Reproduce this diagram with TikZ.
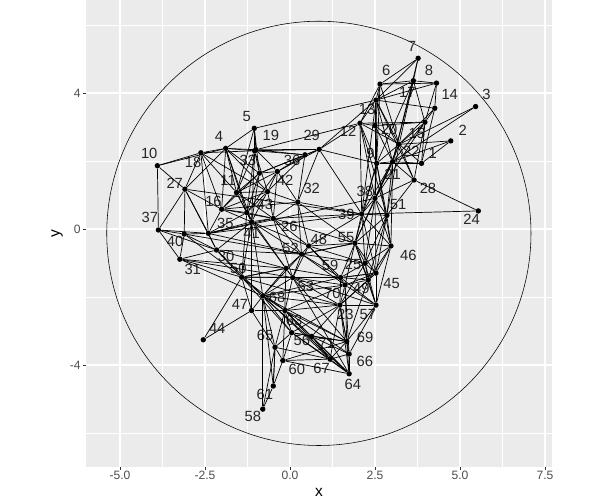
\documentclass[tikz,border=0pt]{standalone}
\usepackage{fontspec}
\setmainfont{Liberation Sans}
\usepackage{tikz}
\usetikzlibrary{calc}
\definecolor{panelgray}{HTML}{EBEBEB}
\definecolor{ticktext}{HTML}{4D4D4D}
\definecolor{tickdark}{HTML}{333333}

\begin{document}
\begin{tikzpicture}[
  x=0.85cm, y=0.85cm,
  pt/.style={circle, fill=black, inner sep=0pt, minimum size=1.35mm},
  lbl/.style={font=\fontsize{10.5}{12}\selectfont, text=black!85, inner sep=0pt},
  edge/.style={black, line width=0.5pt},
  gridmaj/.style={white, line width=0.9pt},
  gridmin/.style={white, line width=0.45pt},
  ticklbl/.style={font=\fontsize{8.6}{10}\selectfont, text=ticktext, inner sep=0pt},
  axttl/.style={font=\fontsize{11}{13}\selectfont, inner sep=0pt},
]
\useasboundingbox (-8.53,-7.97) rectangle (9.12,6.735);

% panel and grid
\fill[panelgray] (-6.01,-7.0) rectangle (7.71,6.74);
\begin{scope}
\clip (-6.01,-7.0) rectangle (7.71,6.74);
\foreach \gx in {-3.75,-1.25,1.25,3.75,6.25} \draw[gridmin] (\gx,-7.0) -- (\gx,6.74);
\foreach \gy in {-6,-2,2,6} \draw[gridmin] (-6.01,\gy) -- (7.71,\gy);
\foreach \gx in {-5,-2.5,0,2.5,5,7.5} \draw[gridmaj] (\gx,-7.0) -- (\gx,6.74);
\foreach \gy in {-4,0,4} \draw[gridmaj] (-6.01,\gy) -- (7.71,\gy);
\end{scope}

% axes
\foreach \gx/\txt in {-5/-5.0,-2.5/-2.5,0/0.0,2.5/2.5,5/5.0,7.5/7.5} {
  \draw[tickdark, line width=0.5pt] (\gx,-7.0) -- (\gx,-7.09);
  \node[ticklbl] (tx\gx) at (\gx,-7.26) {\txt};
}
\foreach \gy/\txt in {-4/-4,0/0,4/4} {
  \draw[tickdark, line width=0.5pt] (-6.01,\gy) -- (-6.10,\gy);
  \node[ticklbl, anchor=east] (ty\txt) at (-6.15,\gy) {\txt};
}
\node[axttl] (xttl) at (0.85,-7.76) {x};
\node[axttl, rotate=90] (yttl) at (-6.85,-0.13) {y};

% enclosing circle
\draw[black, line width=0.4pt] (0.85,-0.13) circle (6.24);

% vertices with labels
\foreach \n/\x/\y/\dx/\dy in {
  1/3.87/1.93/0.33/0.30, 2/4.73/2.59/0.35/0.32, 3/5.46/3.60/0.32/0.36,
  4/-1.89/2.37/-0.20/0.36, 5/-1.05/2.96/-0.22/0.36, 6/2.65/4.26/0.18/0.40,
  7/3.77/5.02/-0.18/0.34, 8/4.31/4.29/-0.22/0.37, 9/2.55/1.93/-0.18/0.28,
  10/-3.90/1.86/-0.24/0.36, 11/-1.57/1.07/-0.25/0.37, 12/2.06/3.11/-0.35/-0.25,
  13/2.53/3.79/-0.26/-0.26, 14/4.26/3.55/0.44/0.41, 15/3.97/3.14/-0.24/-0.32,
  16/-2.01/0.58/-0.24/0.22, 17/3.63/4.36/-0.18/-0.35, 18/-2.62/2.24/-0.23/-0.27,
  19/-1.00/2.33/0.44/0.42, 20/2.50/3.04/0.42/-0.12, 21/3.02/1.98/0.00/-0.36,
  22/3.21/2.49/0.36/-0.22, 23/1.47/-2.24/0.16/-0.27, 24/5.54/0.53/-0.20/-0.26,
  25/2.21/-1.01/-0.35/-0.03, 26/-0.49/0.31/0.47/-0.24, 27/-3.09/1.17/-0.30/0.16,
  28/3.65/1.44/0.41/-0.26, 29/0.86/2.34/-0.22/0.42, 30/-2.16/-0.62/0.28/-0.20,
  31/-3.24/-0.89/0.38/-0.29, 32/0.23/0.79/0.41/0.41, 33/-1.04/2.30/-0.20/-0.28,
  35/-2.40/-0.13/0.50/0.28, 36/0.44/2.18/-0.38/-0.15, 37/-3.87/-0.03/-0.25/0.37,
  38/2.50/0.90/-0.30/0.20, 39/2.11/0.44/-0.45/0.00, 40/-3.11/-0.15/-0.27/-0.23,
  41/-1.13/0.21/0.00/-0.34, 42/-0.37/1.69/0.23/-0.25, 43/-0.66/1.10/-0.08/-0.39,
  44/-2.55/-3.26/0.41/0.34, 45/2.53/-1.30/0.46/-0.30, 46/2.97/-0.50/0.51/-0.29,
  47/-1.13/-2.40/-0.34/0.17, 48/0.55/-0.50/0.30/0.20, 49/2.30/-1.50/-0.20/-0.25,
  50/-1.42/-1.42/-0.10/0.27, 51/2.85/0.40/0.33/0.31, 52/0.34/-0.74/-0.32/0.16,
  53/0.08/-1.43/0.39/-0.26, 55/1.91/-0.42/-0.26/0.16, 56/0.05/-3.05/0.30/-0.24,
  57/2.53/-2.24/-0.24/-0.29, 58/-0.80/-5.30/-0.29/-0.22, 59/1.49/-1.43/-0.31/0.35,
  60/-0.21/-3.87/0.41/-0.27, 61/-0.49/-4.62/-0.25/-0.26, 63/-0.15/-2.40/0.27/-0.28,
  64/1.74/-4.26/0.11/-0.32, 65/-0.44/-3.48/-0.29/0.36, 66/1.74/-3.68/0.46/-0.22,
  67/1.18/-3.83/-0.25/-0.26, 68/-0.80/-1.97/0.42/-0.03, 69/1.67/-3.31/0.54/0.11,
  70/1.62/-1.65/-0.37/-0.24, 71/0.64/-3.16/0.44/-0.20} {
  \node[pt] (n\n) at (\x,\y) {};
  \node[lbl] (l\n) at ($(n\n)+(\dx,\dy)$) {\n};
}
% vertices whose labels are hidden
\foreach \n/\x/\y in {34/-0.90/1.64, 54/-1.27/0.48, 62/-0.12/-1.16}
  \node[pt] (n\n) at (\x,\y) {};

% edges
\foreach \a/\b in {
  10/18, 10/4, 10/27, 10/37, 18/4, 18/33, 18/16, 18/27, 18/11, 18/35,
  4/5, 4/33, 4/19, 4/16, 4/11, 4/27, 4/43, 4/34, 4/54, 5/33, 5/19, 5/13, 5/34,
  19/29, 19/12, 19/36, 33/29, 33/36, 33/34, 33/11, 33/43,
  29/36, 29/42, 29/32, 29/39, 29/12, 29/13, 29/34, 29/9, 36/34, 36/42, 36/32,
  27/37, 27/40, 27/16, 27/35, 27/30, 27/39, 37/40, 37/31, 37/30, 37/35,
  40/31, 40/30, 40/35, 40/50, 31/50, 31/30, 31/68, 31/53,
  30/35, 30/50, 30/41, 30/52, 30/68,
  16/11, 16/43, 16/35, 16/54, 16/41, 16/26, 16/34,
  11/34, 11/43, 11/54, 11/41, 11/42, 42/34, 42/43, 42/32, 42/26, 42/54,
  43/54, 43/26, 43/41, 43/32, 32/26, 32/39, 32/55, 32/52,
  26/41, 26/39, 26/52, 26/53, 26/48,
  41/50, 41/68, 41/52, 41/47, 41/54, 41/62, 35/41, 35/26, 35/38, 35/54,
  54/62, 54/50,
  7/6, 7/17, 7/13, 7/21, 6/8, 6/17, 6/13, 6/12, 6/20, 6/22,
  8/17, 8/14, 8/13, 8/15, 17/13, 17/15, 17/22, 17/21,
  13/14, 13/12, 13/20, 13/9, 13/22, 13/21, 13/38, 14/15, 14/22, 14/1,
  3/22, 3/21, 12/20, 12/15, 12/9, 12/22, 12/38,
  20/15, 20/22, 20/9, 20/21, 15/22, 15/1, 15/28, 15/21,
  2/22, 2/1, 2/21, 22/1, 22/9, 22/21, 22/28, 22/38,
  9/21, 9/38, 9/1, 9/39, 9/51, 21/1, 21/28, 21/38, 21/51, 21/55,
  28/24, 28/51, 28/38, 24/39,
  38/39, 38/51, 38/55, 38/46, 38/25, 39/55, 39/51, 39/46, 39/25, 39/48,
  51/46, 51/55, 51/25, 51/49,
  55/46, 55/25, 55/52, 55/59, 55/45, 55/48, 55/49, 46/25, 46/45, 46/49,
  25/45, 25/59, 25/49, 25/57, 45/49, 45/57, 45/59, 45/70,
  48/52, 48/53, 48/59, 52/53, 52/59, 52/68, 52/62, 52/25,
  53/59, 53/70, 53/63, 53/68, 53/62, 53/23, 62/68, 62/50, 62/59,
  59/70, 59/49, 59/23, 70/23, 70/63, 70/57, 70/49,
  23/57, 23/69, 23/66, 23/67, 23/64, 23/49,
  68/47, 68/50, 68/63, 68/65, 68/56, 68/61, 47/44, 47/50, 44/50,
  50/53, 50/59, 50/63, 63/56, 63/67, 63/60, 63/69, 63/23,
  65/60, 65/61, 65/56, 65/63, 60/61, 60/67, 60/56, 60/64, 61/58, 58/65,
  56/67, 56/69, 56/23, 67/64, 67/66, 67/69, 64/66, 64/69,
  69/66, 69/57, 66/57, 57/49, 71/56, 71/67, 71/23, 71/63, 71/69,
  % denser bands
  13/39, 12/39, 9/55, 21/46, 38/45, 39/45, 51/45, 21/39, 9/46, 12/51,
  20/38, 17/9, 6/9, 13/28, 22/51, 15/38,
  4/41, 33/54, 33/41, 18/43, 11/26, 34/54, 34/41, 43/36, 5/11, 19/42,
  35/39, 16/32, 54/26, 41/48, 40/52, 31/62, 30/62, 35/52,
  26/55, 32/48, 52/55, 48/25, 62/53, 62/63, 50/62, 52/70, 48/70,
  68/64, 68/67, 68/69, 68/23, 63/64, 63/66, 53/64, 53/69, 65/67,
  47/63, 50/56, 68/70, 68/59, 50/23, 47/65, 58/68, 61/65, 60/69,
  56/64, 71/64, 71/66, 53/57, 59/57, 70/69, 70/66, 23/45, 49/69,
  55/70, 25/23, 55/57, 46/57, 59/45}
  \draw[edge] (n\a) -- (n\b);
\end{tikzpicture}
\end{document}
